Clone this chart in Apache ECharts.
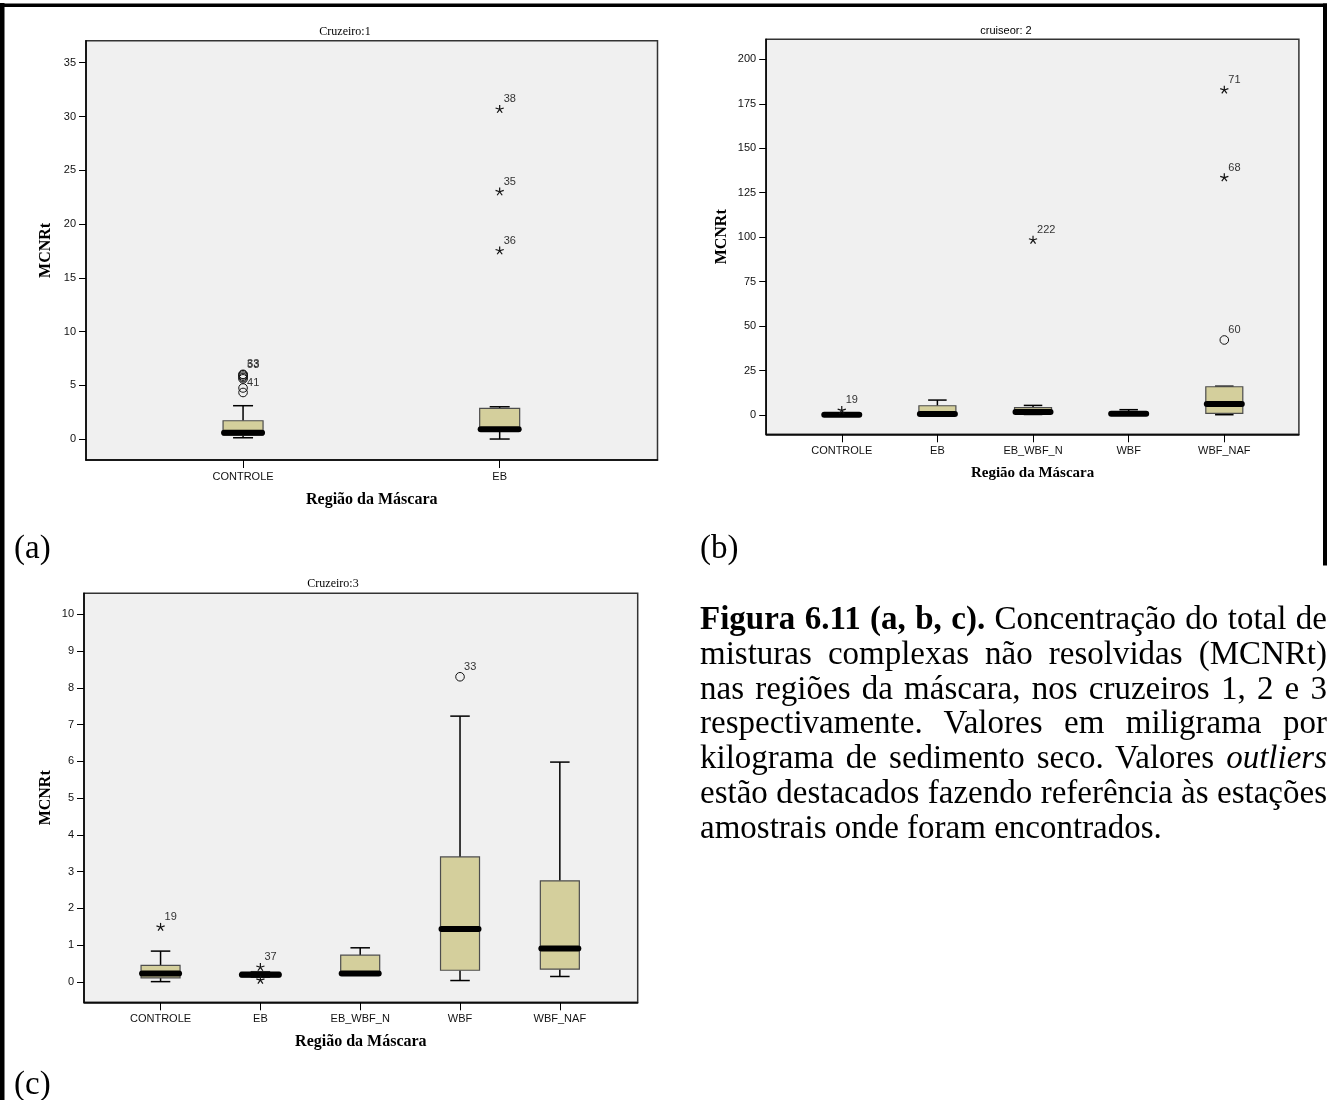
<!DOCTYPE html>
<html>
<head>
<meta charset="utf-8">
<title>MCNRt por região da máscara</title>
<script src="https://cdn.jsdelivr.net/npm/echarts@6/dist/echarts.min.js"></script>
<style>
  html, body { margin: 0; padding: 0; background: #fff; }
  #wrap { position: relative; width: 1329px; height: 1100px; overflow: hidden; }
  #chart { position: absolute; left: 0; top: 0; width: 1329px; height: 1100px; }
  #caption {
    position: absolute; left: 700px; top: 601px; width: 627px;
    font-family: 'Liberation Serif', 'Times New Roman', serif;
    font-size: 33px; line-height: 34.8px; color: #000;
  }
  #caption div { text-align: justify; text-align-last: justify; }
  #caption div.last { text-align: left; text-align-last: left; }
</style>
</head>
<body>
<div id="wrap">
  <div id="chart"></div>
  <div id="caption">
    <div><b>Figura 6.11 (a, b, c).</b> Concentração do total de</div>
    <div>misturas complexas não resolvidas (MCNRt)</div>
    <div>nas regiões da máscara, nos cruzeiros 1, 2 e 3</div>
    <div>respectivamente. Valores em miligrama por</div>
    <div>kilograma de sedimento seco. Valores <i>outliers</i></div>
    <div>estão destacados fazendo referência às estações</div>
    <div class="last">amostrais onde foram encontrados.</div>
  </div>
</div>
<script>
// ---------- Cruzeiro 1 ----------
const regions1 = ['CONTROLE', 'EB'];
// [lower whisker, Q1, median, Q3, upper whisker]
const box1 = [
  [0.12, 0.35, 0.59, 1.70, 3.10],
  [0.00, 0.85, 0.90, 2.86, 3.00]
];
// [region index, value, station, marker: 'o' outlier / '*' extreme]
const out1 = [
  [0, 4.33, '41', 'o'],
  [0, 4.75, '', 'o'],
  [0, 5.60, '', 'o'],
  [0, 5.72, '', 'o'],
  [0, 5.85, '', 'o'],
  [0, 5.98, '53', 'o'],
  [0, 6.02, '33', 'o'],
  [1, 17.51, '36', '*'],
  [1, 23.00, '35', '*'],
  [1, 30.67, '38', '*']
];
const ticks1 = [0, 5, 10, 15, 20, 25, 30, 35];

// ---------- Cruzeiro 2 ----------
const regions2 = ['CONTROLE', 'EB', 'EB_WBF_N', 'WBF', 'WBF_NAF'];
const box2 = [
  [0.00, 0.05, 0.20, 0.60, 1.20],
  [0.00, 0.20, 0.56, 5.20, 8.40],
  [0.30, 0.90, 1.70, 4.10, 5.40],
  [0.10, 0.40, 0.75, 1.50, 3.00],
  [0.17, 0.95, 6.20, 15.90, 16.20]
];
const out2 = [
  [0, 2.6, '19', '*'],
  [2, 98.4, '222', '*'],
  [4, 42.2, '60', 'o'],
  [4, 133.5, '68', '*'],
  [4, 182.8, '71', '*']
];
const ticks2 = [0, 25, 50, 75, 100, 125, 150, 175, 200];

// ---------- Cruzeiro 3 ----------
const regions3 = ['CONTROLE', 'EB', 'EB_WBF_N', 'WBF', 'WBF_NAF'];
const box3 = [
  [0.01, 0.11, 0.23, 0.45, 0.84],
  [0.13, 0.14, 0.20, 0.27, 0.28],
  [0.21, 0.21, 0.23, 0.73, 0.93],
  [0.04, 0.32, 1.44, 3.40, 7.23],
  [0.15, 0.35, 0.91, 2.75, 5.98]
];
const out3 = [
  [0, 1.49, '19', '*'],
  [1, 0.05, '', '*'],
  [1, 0.40, '37', '*'],
  [3, 8.30, '33', 'o']
];
const ticks3 = [0, 1, 2, 3, 4, 5, 6, 7, 8, 9, 10];

// ---------- styling ----------
const SANS = '"Liberation Sans", Arial, sans-serif';
const SERIF = '"Liberation Serif", "Times New Roman", serif';
const PLOT_BG = '#f0f0f0';
const BOX_FILL = '#d4cf9c';
const BOX_EDGE = '#4d4d4d';

// panel frames (px) and axis ranges
const panels = [
  { grid: { left: 86, top: 40.7, width: 571.5, height: 419.3 },
    x: [-0.612, 1.615], y: [-1.95, 37.05], boxW: 40,
    gapY: 32, gapX: 32, nameX: 16,
    regions: regions1, boxes: box1, outliers: out1, ticks: ticks1 },
  { grid: { left: 766.2, top: 39.3, width: 532.7, height: 395 },
    x: [-0.79, 4.78], y: [-10.85, 211.3], boxW: 37,
    gapY: 36, gapX: 31, nameX: 15,
    regions: regions2, boxes: box2, outliers: out2, ticks: ticks2 },
  { grid: { left: 84, top: 593.3, width: 553.7, height: 409 },
    x: [-0.767, 4.78], y: [-0.552, 10.57], boxW: 39,
    gapY: 30.5, gapX: 31.5, nameX: 16,
    regions: regions3, boxes: box3, outliers: out3, ticks: ticks3 }
];

function boxSeries(idx, boxes, boxW) {
  return {
    type: 'custom', xAxisIndex: idx, yAxisIndex: idx,
    animation: false, silent: true, z: 3,
    data: boxes.map((b, i) => [i].concat(b)),
    encode: { x: 0, y: [1, 2, 3, 4, 5] },
    renderItem: function (params, api) {
      const x = api.value(0);
      const lo = api.coord([x, api.value(1)]);
      const q1 = api.coord([x, api.value(2)]);
      const md = api.coord([x, api.value(3)]);
      const q3 = api.coord([x, api.value(4)]);
      const hi = api.coord([x, api.value(5)]);
      const cx = md[0], hw = boxW / 2, cw = boxW / 4;
      const ws = { stroke: '#000', lineWidth: 1.5 };
      return {
        type: 'group',
        children: [
          { type: 'line', shape: { x1: cx, y1: q3[1], x2: cx, y2: hi[1] }, style: ws },
          { type: 'line', shape: { x1: cx - cw, y1: hi[1], x2: cx + cw, y2: hi[1] }, style: ws },
          { type: 'line', shape: { x1: cx, y1: q1[1], x2: cx, y2: lo[1] }, style: ws },
          { type: 'line', shape: { x1: cx - cw, y1: lo[1], x2: cx + cw, y2: lo[1] }, style: ws },
          { type: 'rect', shape: { x: cx - hw, y: q3[1], width: boxW, height: Math.max(q1[1] - q3[1], 0.5) },
            style: { fill: BOX_FILL, stroke: BOX_EDGE, lineWidth: 1.2 } },
          { type: 'line', shape: { x1: cx - hw + 1, y1: md[1], x2: cx + hw - 1, y2: md[1] },
            style: { stroke: '#000', lineWidth: 6, lineCap: 'round' } }
        ]
      };
    }
  };
}

function outlierSeries(idx, list) {
  return {
    type: 'custom', xAxisIndex: idx, yAxisIndex: idx,
    animation: false, silent: true, z: 4,
    data: list.map(o => [o[0], o[1]]),
    encode: { x: 0, y: 1 },
    renderItem: function (params, api) {
      const p = api.coord([api.value(0), api.value(1)]);
      const o = list[params.dataIndex];
      const children = [];
      if (o[3] === 'o') {
        children.push({ type: 'circle', shape: { cx: p[0], cy: p[1], r: 4.3 },
          style: { fill: 'none', stroke: '#111', lineWidth: 1 } });
      } else {
        // five-spoke asterisk for extreme values
        for (let k = 0; k < 5; k++) {
          const a = -Math.PI / 2 + k * 2 * Math.PI / 5;
          children.push({ type: 'line',
            shape: { x1: p[0], y1: p[1], x2: p[0] + 4.3 * Math.cos(a), y2: p[1] + 4.3 * Math.sin(a) },
            style: { stroke: '#111', lineWidth: 1.2 } });
        }
      }
      if (o[2]) {
        children.push({ type: 'text', x: p[0] + 4, y: p[1] - 10,
          style: { text: o[2], font: '11px ' + SANS, fill: '#333', align: 'left', verticalAlign: 'middle' } });
      }
      return { type: 'group', children: children };
    }
  };
}

const grids = [], xAxes = [], yAxes = [], series = [];
panels.forEach((p, i) => {
  grids.push(Object.assign({ show: true, backgroundColor: PLOT_BG, borderColor: '#333', borderWidth: 1.5,
    containLabel: false }, p.grid));
  const xTicks = p.regions.map((_, k) => k);
  xAxes.push({
    gridIndex: i, type: 'value', min: p.x[0], max: p.x[1],
    axisLine: { show: true, onZero: false, lineStyle: { color: '#000', width: 1.5 } },
    axisTick: { show: true, length: 8, customValues: xTicks, lineStyle: { color: '#000', width: 1 } },
    axisLabel: { show: true, customValues: xTicks, margin: 11, color: '#111', fontFamily: SANS, fontSize: 11,
      formatter: v => p.regions[Math.round(v)] || '' },
    splitLine: { show: false },
    name: 'Região da Máscara', nameLocation: 'middle', nameGap: p.gapX,
    nameTextStyle: { fontFamily: SERIF, fontWeight: 'bold', fontSize: p.nameX, color: '#000' }
  });
  yAxes.push({
    gridIndex: i, type: 'value', min: p.y[0], max: p.y[1],
    axisLine: { show: true, onZero: false, lineStyle: { color: '#000', width: 1.5 } },
    axisTick: { show: true, length: 7, customValues: p.ticks, lineStyle: { color: '#000', width: 1 } },
    axisLabel: { show: true, customValues: p.ticks, margin: 10, color: '#111', fontFamily: SANS, fontSize: 11 },
    splitLine: { show: false },
    name: 'MCNRt', nameLocation: 'middle', nameGap: p.gapY,
    nameTextStyle: { fontFamily: SERIF, fontWeight: 'bold', fontSize: 16, color: '#000' }
  });
  series.push(boxSeries(i, p.boxes, p.boxW));
  series.push(outlierSeries(i, p.outliers));
});

function label(text, x, y, font, align) {
  return { type: 'text', x: x, y: y, silent: true,
    style: { text: text, font: font, fill: '#000', align: align || 'center', verticalAlign: 'middle' } };
}

const graphics = [
  // page frame
  { type: 'rect', silent: true, shape: { x: 0, y: 3, width: 4.5, height: 1100 }, style: { fill: '#000' } },
  { type: 'rect', silent: true, shape: { x: 0, y: 3.5, width: 1327, height: 3.5 }, style: { fill: '#000' } },
  { type: 'rect', silent: true, shape: { x: 1323, y: 3.5, width: 4, height: 562 }, style: { fill: '#000' } },
  // chart titles
  label('Cruzeiro:1', 345, 31.7, '12px ' + SERIF),
  label('cruiseor: 2', 1006, 30.7, '11px ' + SANS),
  label('Cruzeiro:3', 333, 584, '12px ' + SERIF),
  // panel letters
  label('(a)', 14, 549, '33px ' + SERIF, 'left'),
  label('(b)', 700, 549, '33px ' + SERIF, 'left'),
  label('(c)', 14, 1085, '33px ' + SERIF, 'left')
];

const chart = echarts.init(document.getElementById('chart'), null, { renderer: 'canvas' });
chart.setOption({
  animation: false,
  backgroundColor: '#fff',
  grid: grids,
  xAxis: xAxes,
  yAxis: yAxes,
  series: series,
  graphic: graphics
});
</script>
</body>
</html>
